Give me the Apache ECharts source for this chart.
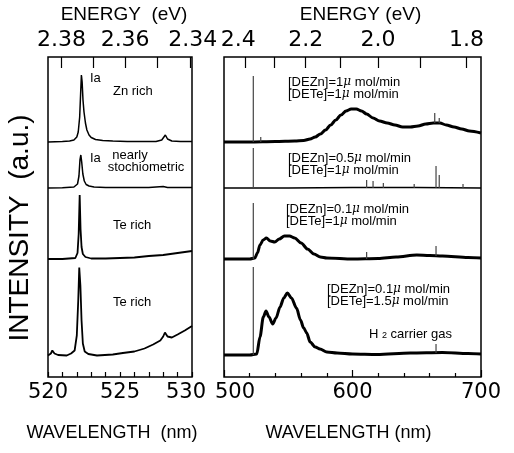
<!DOCTYPE html>
<html>
<head>
<meta charset="utf-8">
<script src="https://cdn.jsdelivr.net/npm/echarts@6/dist/echarts.min.js"></script>
<style>
html, body { margin: 0; padding: 0; background: #fff; }
#chart { width: 514px; height: 453px; }
</style>
</head>
<body>
<div id="chart"></div>
<script>
// photon energy (eV) <-> wavelength (nm)
var HC = 1239.84;

// ---- left panel: 520-530 nm, [wavelength, intensity above own baseline] ----
var znRich = [[520,0],[520.5,0.3],[521,0.5],[521.5,1],[521.8,2],[522.0,5],[522.1,10],[522.2,25],[522.27,50],[522.32,67],[522.37,60],[522.43,42],[522.5,30],[522.6,19],[522.7,12],[522.85,7],[523,4.5],[523.3,2.5],[523.8,1.5],[524.5,1],[525.5,0.5],[527.5,0.5],[527.9,2],[528.15,7],[528.3,3],[528.6,1],[529.2,0.5],[530,0.5]];
var nearlyStoich = [[520,0],[521,0.3],[521.8,1],[522.05,4],[522.15,12],[522.22,28],[522.28,33],[522.34,26],[522.42,14],[522.52,7],[522.65,3.5],[522.85,2],[523.2,1],[524,0.5],[527,0.5],[528,1.5],[528.3,0.5],[530,0.5]];
var teRichA = [[520,0],[521,0],[521.9,1],[522.05,6],[522.13,25],[522.2,64],[522.26,30],[522.33,12],[522.42,5],[522.6,2],[523,0.5],[524,0.5],[525,1],[526,1.5],[527,3],[528,4],[529,6],[530,8]];
var teRichB = [[520,0],[520.2,2],[520.3,5],[520.45,2],[520.7,0.5],[521.3,0],[521.6,2],[521.85,5],[522.0,20],[522.1,55],[522.17,88],[522.25,70],[522.33,35],[522.42,12],[522.55,4],[522.8,1.5],[523.4,0],[524.5,1],[525.2,2.5],[526,4],[526.7,7],[527.3,11],[527.8,15],[528.0,19],[528.12,23],[528.3,19],[528.6,18],[529,21],[529.5,25],[530,29.5]];
var leftOffsets = [235, 189, 118, 21.5];

// ---- right panel: 500-700 nm ----
var dezn1 = [[500,0],[520,0],[540,0.5],[555,1],[562,1.5],[567,3],[571,5],[575,8],[579,12],[583,17],[587,22],[591,27],[595,31],[599,33],[603,33],[607,31],[611,28],[616,24],[621,21],[627,19],[633,17],[639,15],[645,15],[651,16],[657,18],[663,19],[668,19],[673,17],[679,15],[685,13],[691,11],[700,9]];
var dezn05 = [[500,0],[550,0],[600,0.5],[650,0.5],[700,0]];
var dezn01 = [[500,0],[520,0],[524,1],[526,6],[528,14],[530.5,19],[533,21],[536,18],[539.5,17],[543,20],[547,23],[551,23],[555,21],[560,16],[565,10],[570,5],[575,2],[580,1],[600,0],[620,0.5],[634,2],[650,4],[660,3.5],[670,3],[690,1.5],[700,1]];
var dezn01Te15 = [[500,0],[520,0],[525.5,1],[528,18],[530.6,38],[532.7,44],[535,38],[537.9,31],[540.5,37],[543.6,48],[546.5,57],[549.3,62],[552.5,57],[556.4,47],[559.5,35],[562,27],[564.4,22],[567,13],[571,8],[574.7,6],[580,3],[588,2],[600,1],[619,0.5],[645,2],[670,2.5],[690,1.5],[700,1]];
// narrow lines: [wavelength, from, to]
var spikes1 = [[522.8,0,66],[528.6,0,5],[664,19,29],[667.5,19,24]];
var spikes05 = [[522.8,0,40],[611,0,8],[616,0,7],[624,0,5],[648,0,4],[665,0,22],[667.5,0,13],[686,0,4]];
var spikes01 = [[522.8,0,56],[611,0,7],[665,3,13]];
var spikes01Te15 = [[522.8,0,88],[665,2,11]];
var rightOffsets = [235, 189, 118, 22];

// energy axis ticks
var leftEnergyTicks = [2.38, 2.37, 2.36, 2.35, 2.34];
var leftEnergyLabels = [2.38, 2.36, 2.34];
var rightEnergyTicks = [2.4, 2.3, 2.2, 2.1, 2.0, 1.9, 1.8];
var rightEnergyLabels = [2.4, 2.2, 2.0, 1.8];

function toNm(list) { return list.map(function (e) { return HC / e; }); }
function shift(data, off) { return data.map(function (p) { return [p[0], p[1] + off]; }); }
function spikeData(list, off) {
    var out = [];
    list.forEach(function (s) {
        out.push([s[0], s[1] + off], [s[0], s[2] + off], [s[0], '-']);
    });
    return out;
}

var chart = echarts.init(document.getElementById('chart'));
var numFont = 'DejaVu Sans';
var txtFont = 'Liberation Sans, Arial, sans-serif';

function lineSeries(xi, data, off, width, smooth) {
    return {
        type: 'line', xAxisIndex: xi, yAxisIndex: xi === 2 ? 1 : 0,
        data: shift(data, off), symbol: 'none', smooth: smooth,
        smoothMonotone: 'x', lineStyle: { color: '#000', width: width },
        silent: true, animation: false
    };
}
function spikeSeries(list, off) {
    return {
        type: 'line', xAxisIndex: 2, yAxisIndex: 1,
        data: spikeData(list, off), symbol: 'none', connectNulls: false,
        lineStyle: { color: '#444', width: 1.2 }, silent: true, animation: false
    };
}

var tickStyle = { color: '#000', width: 1.2 };

var option = {
    backgroundColor: '#fff',
    animation: false,
    grid: [
        { left: 48, top: 57, width: 144, height: 320, show: true, borderColor: '#000', borderWidth: 1.5 },
        { left: 224, top: 57, width: 257, height: 320, show: true, borderColor: '#000', borderWidth: 1.5 }
    ],
    xAxis: [
        {   // left wavelength
            gridIndex: 0, type: 'value', min: 520, max: 530, interval: 5, position: 'bottom',
            axisLine: { show: false }, splitLine: { show: false },
            axisTick: { inside: true, length: 5, lineStyle: tickStyle },
            minorTick: { show: true, splitNumber: 5, length: 5, lineStyle: tickStyle },
            axisLabel: {
                margin: 5, fontSize: 21, fontFamily: numFont, color: '#000',
                formatter: function (v) { return v === 530 ? '{r|530}' : String(v); },
                rich: { r: { fontSize: 21, fontFamily: numFont, color: '#000', padding: [0, 12, 0, 0] } }
            },
            name: 'WAVELENGTH  (nm)', nameLocation: 'middle', nameGap: 47,
            nameTextStyle: { fontSize: 18, fontFamily: txtFont, color: '#000', padding: [0, 0, 0, -16] }
        },
        {   // left energy
            gridIndex: 0, type: 'value', min: 520, max: 530, position: 'top',
            axisLine: { show: false }, splitLine: { show: false },
            axisTick: { inside: true, length: 11, lineStyle: tickStyle, customValues: toNm(leftEnergyTicks) },
            axisLabel: {
                margin: 6, fontSize: 22, fontFamily: numFont, color: '#000',
                customValues: toNm(leftEnergyLabels),
                formatter: function (v) {
                    var s = (HC / v).toFixed(2);
                    return s === '2.34' ? '{r|2.34}' : s;
                },
                rich: { r: { fontSize: 22, fontFamily: numFont, color: '#000', padding: [0, 0, 0, 6] } }
            },
            name: 'ENERGY  (eV)', nameLocation: 'middle', nameGap: 31,
            nameTextStyle: { fontSize: 19, fontFamily: txtFont, color: '#000', padding: [0, 0, 0, 8] }
        },
        {   // right wavelength
            gridIndex: 1, type: 'value', min: 500, max: 700, interval: 100, position: 'bottom',
            axisLine: { show: false }, splitLine: { show: false },
            axisTick: { inside: true, length: 7, lineStyle: tickStyle },
            minorTick: { show: true, splitNumber: 5, length: 4, lineStyle: tickStyle },
            axisLabel: {
                margin: 5, fontSize: 21, fontFamily: numFont, color: '#000',
                formatter: function (v) { return v === 500 ? '{r|500}' : String(v); },
                rich: { r: { fontSize: 21, fontFamily: numFont, color: '#000', padding: [0, 0, 0, 22] } }
            },
            name: 'WAVELENGTH (nm)', nameLocation: 'middle', nameGap: 47,
            nameTextStyle: { fontSize: 18, fontFamily: txtFont, color: '#000', padding: [0, 0, 0, -8] }
        },
        {   // right energy
            gridIndex: 1, type: 'value', min: 500, max: 700, position: 'top',
            axisLine: { show: false }, splitLine: { show: false },
            axisTick: { inside: true, length: 11, lineStyle: tickStyle, customValues: toNm(rightEnergyTicks) },
            axisLabel: {
                margin: 6, fontSize: 22, fontFamily: numFont, color: '#000',
                customValues: toNm(rightEnergyLabels),
                formatter: function (v) {
                    var s = (HC / v).toFixed(1);
                    return s === '2.4' ? '{r|2.4}' : s;
                },
                rich: { r: { fontSize: 22, fontFamily: numFont, color: '#000', padding: [0, 14, 0, 0] } }
            },
            name: 'ENERGY (eV)', nameLocation: 'middle', nameGap: 31,
            nameTextStyle: { fontSize: 19, fontFamily: txtFont, color: '#000', padding: [0, 0, 0, 16] }
        }
    ],
    yAxis: [
        {
            gridIndex: 0, type: 'value', min: 0, max: 320,
            axisLine: { show: false }, axisTick: { show: false }, axisLabel: { show: false }, splitLine: { show: false },
            name: 'INTENSITY  (a.u.)', nameLocation: 'middle', nameGap: 14,
            nameTextStyle: { fontSize: 28, fontFamily: txtFont, color: '#000', padding: [0, 22, 0, 0] }
        },
        {
            gridIndex: 1, type: 'value', min: 0, max: 320, show: false
        }
    ],
    series: [
        lineSeries(0, znRich, leftOffsets[0], 1.5, false),
        lineSeries(0, nearlyStoich, leftOffsets[1], 1.5, false),
        lineSeries(0, teRichA, leftOffsets[2], 1.8, false),
        lineSeries(0, teRichB, leftOffsets[3], 1.8, false),
        lineSeries(2, dezn1, rightOffsets[0], 3, 0.3),
        lineSeries(2, dezn05, rightOffsets[1], 1.5, false),
        lineSeries(2, dezn01, rightOffsets[2], 3, 0.3),
        lineSeries(2, dezn01Te15, rightOffsets[3], 3, 0.3),
        spikeSeries(spikes1, rightOffsets[0]),
        spikeSeries(spikes05, rightOffsets[1]),
        spikeSeries(spikes01, rightOffsets[2]),
        spikeSeries(spikes01Te15, rightOffsets[3])
    ]
};

function note(x, y, text, extra) {
    var st = {
        text: text, x: x, y: y, fill: '#000',
        font: '13px ' + txtFont, textVerticalAlign: 'middle', lineHeight: 12,
        rich: {
            m: { fontStyle: 'italic', fontFamily: 'DejaVu Serif', fontSize: 12 },
            s: { fontSize: 9, verticalAlign: 'bottom', padding: [6, 0, 0, 0] }
        }
    };
    for (var k in extra) st[k] = extra[k];
    return { type: 'text', style: st, silent: true, z: 10 };
}

option.graphic = [
    note(90, 78, 'Ia'),
    note(113, 91, 'Zn rich'),
    note(90, 158, 'Ia'),
    note(130, 155, 'nearly', { textAlign: 'center' }),
    note(146, 167, 'stochiometric', { textAlign: 'center' }),
    note(113, 225, 'Te rich'),
    note(113, 302, 'Te rich'),
    note(288, 88, '[DEZn]=1{m|μ} mol/min\n[DETe]=1{m|μ} mol/min'),
    note(288, 164, '[DEZn]=0.5{m|μ} mol/min\n[DETe]=1{m|μ} mol/min'),
    note(286, 215, '[DEZn]=0.1{m|μ} mol/min\n[DETe]=1{m|μ} mol/min'),
    note(327, 295, '[DEZn]=0.1{m|μ} mol/min\n[DETe]=1.5{m|μ} mol/min'),
    note(369, 334, 'H {s|2} carrier gas')
];

chart.setOption(option);
</script>
</body>
</html>
